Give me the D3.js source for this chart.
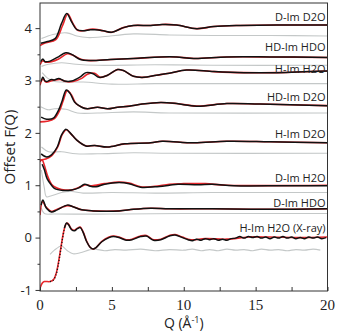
<!DOCTYPE html>
<html><head><meta charset="utf-8">
<script src="https://cdn.jsdelivr.net/npm/d3@7"></script>
<style>html,body{margin:0;padding:0;background:#fff;}svg{display:block;}</style>
</head><body>
<svg id="c" width="337" height="333"></svg>
<script>
// ---------- data (Q in 1/Å, offset F(Q)) ----------
const xTicks = [0, 5, 10, 15, 20];
const yTicks = [-1, 0, 1, 2, 3, 4];
const seriesLabels = ["D-Im D2O", "HD-Im HDO", "H-Im H2O", "HD-Im D2O", "H-Im D2O", "D-Im H2O", "D-Im HDO", "H-Im H2O (X-ray)"];
const labelLevels = [4.21, 3.64, 3.22, 2.68, 1.98, 1.14, 0.66, 0.18];

const dImD2O_fit = [[0.05,3.71],[0.46,3.74],[1.05,3.80],[1.5,4.09],[1.86,4.28],[2.2,4.12],[2.56,3.97],[3.0,3.95],[3.5,3.97],[3.8,3.97],[4.4,3.95],[5.0,3.92],[5.8,4.01],[6.5,4.05],[7.7,4.05],[8.5,4.07],[9.5,4.06],[10.9,3.99],[12.1,4.03],[13.7,4.05],[16.5,4.06],[20,4.06]];
const dImD2O_data = [[0.0,3.67],[0.4,3.72],[1.1,3.78],[1.57,4.05],[1.93,4.27],[2.27,4.10],[2.62,3.96],[3.0,3.95],[3.5,3.98],[3.85,3.98],[4.4,3.95],[5.0,3.92],[5.8,4.01],[6.5,4.05],[7.7,4.05],[8.5,4.07],[9.5,4.06],[10.9,3.99],[12.1,4.03],[13.7,4.05],[16.5,4.06],[20,4.06]];
const dImD2O_diff = [[0.1,3.80],[0.9,3.88],[1.86,3.91],[2.56,3.85],[3.3,3.82],[4.2,3.83],[6.5,3.89],[9,3.87],[12,3.86],[16,3.86],[20,3.85]];

const hdImHDO_fit = [[0.05,3.36],[0.2,3.41],[0.35,3.36],[0.7,3.37],[1.2,3.44],[1.8,3.53],[2.2,3.50],[2.8,3.40],[3.5,3.38],[4.9,3.40],[6.5,3.42],[8.4,3.45],[9.5,3.45],[10.7,3.42],[13,3.45],[16,3.45],[20,3.44]];
const hdImHDO_data = [[0.0,3.30],[0.2,3.38],[0.4,3.35],[0.8,3.36],[1.3,3.41],[1.9,3.51],[2.3,3.48],[2.9,3.40],[3.5,3.38],[4.9,3.40],[6.5,3.42],[8.4,3.45],[9.5,3.45],[10.7,3.42],[13,3.45],[16,3.45],[20,3.44]];
const hdImHDO_diff = [[0.1,3.27],[0.6,3.31],[1.5,3.34],[2.5,3.31],[4,3.29],[8,3.30],[12,3.29],[20,3.29]];

const hImH2O_fit = [[0.08,2.98],[0.2,3.06],[0.35,2.99],[0.46,2.98],[0.8,3.02],[1.0,3.01],[1.3,3.04],[1.7,2.99],[2.2,2.99],[2.8,3.07],[3.2,3.15],[3.7,3.13],[4.1,3.06],[4.7,3.10],[5.4,3.21],[5.8,3.19],[6.5,3.08],[7.2,3.06],[8.1,3.10],[9.0,3.14],[10.2,3.20],[12.1,3.17],[14.2,3.15],[16.5,3.15],[20,3.18]];
const hImH2O_data = [[0.0,2.91],[0.2,3.03],[0.4,2.97],[0.9,3.00],[1.4,3.02],[1.8,2.98],[2.3,2.98],[2.9,3.04],[3.3,3.12],[3.8,3.14],[4.2,3.06],[4.7,3.10],[5.4,3.21],[5.8,3.19],[6.5,3.08],[7.2,3.06],[8.1,3.10],[9.0,3.14],[10.2,3.20],[12.1,3.17],[14.2,3.15],[16.5,3.15],[20,3.18]];
const hImH2O_diff = [[0.15,3.15],[0.5,3.05],[1.0,2.98],[1.5,2.97],[3,2.97],[5,2.93],[8,2.94],[12,2.94],[20,2.94]];

const hdImD2O_fit = [[0.08,2.30],[0.46,2.26],[0.93,2.28],[1.3,2.44],[1.55,2.62],[1.83,2.82],[2.1,2.75],[2.4,2.59],[2.9,2.49],[3.3,2.46],[4.0,2.49],[4.7,2.46],[5.4,2.49],[6.2,2.51],[7.1,2.55],[8.4,2.58],[9.5,2.56],[10.9,2.51],[13,2.56],[15.3,2.55],[20,2.52]];
const hdImD2O_data = [[0.0,2.21],[0.5,2.22],[1.0,2.27],[1.35,2.42],[1.62,2.62],[1.9,2.81],[2.2,2.72],[2.5,2.56],[3.0,2.48],[3.3,2.46],[4.0,2.49],[4.7,2.46],[5.4,2.49],[6.2,2.51],[7.1,2.55],[8.4,2.58],[9.5,2.56],[10.9,2.51],[13,2.56],[15.3,2.55],[20,2.52]];
const hdImD2O_diff = [[0.05,2.50],[0.6,2.44],[1.0,2.46],[1.8,2.45],[2.6,2.38],[4,2.38],[6.5,2.40],[9,2.38],[20,2.38]];

const hImD2O_fit = [[0.08,1.60],[0.46,1.54],[0.8,1.58],[1.2,1.73],[1.5,1.96],[1.8,2.07],[2.1,2.00],[2.56,1.86],[3.2,1.75],[3.8,1.76],[4.7,1.73],[5.9,1.79],[7.7,1.81],[8.5,1.84],[10.7,1.81],[13,1.84],[16,1.83],[20,1.81]];
const hImD2O_data = [[0.0,1.48],[0.4,1.50],[0.8,1.56],[1.25,1.74],[1.55,1.97],[1.85,2.06],[2.15,1.98],[2.6,1.85],[3.2,1.75],[3.8,1.76],[4.7,1.73],[5.9,1.79],[7.7,1.81],[8.5,1.84],[10.7,1.81],[13,1.84],[16,1.83],[20,1.81]];
const hImD2O_diff = [[0.1,1.73],[0.6,1.64],[1.5,1.64],[2.5,1.60],[4,1.60],[6.5,1.62],[9,1.61],[20,1.61]];

const dImH2O_fit = [[0.15,1.40],[0.3,1.30],[0.5,1.12],[0.8,1.00],[1.0,0.94],[1.6,0.90],[2.2,0.91],[2.7,0.95],[3.1,1.02],[3.5,0.98],[3.9,0.97],[4.5,1.02],[5.5,1.05],[6.2,1.03],[7.0,0.96],[8.0,0.97],[9.0,1.00],[9.6,1.02],[11.0,1.01],[12.0,1.02],[13.5,0.99],[17,0.99],[20,0.99]];
const dImH2O_data = [[0.0,1.45],[0.15,1.48],[0.3,1.38],[0.55,1.16],[0.8,1.02],[1.0,0.97],[1.5,0.92],[2.2,0.91],[2.8,0.97],[3.2,1.01],[3.6,0.99],[4.5,1.03],[5.5,1.06],[6.2,1.04],[7,0.97],[8,0.98],[9,1.02],[10,1.03],[11.5,1.03],[13,1.00],[20,1.00]];
const dImH2O_diff = [[0.1,1.29],[0.3,0.95],[0.45,0.78],[0.8,0.80],[1.5,0.86],[2.2,0.88],[3,0.85],[5,0.86],[8,0.85],[12,0.86],[20,0.86]];

const dImHDO_fit = [[0.08,0.62],[0.2,0.72],[0.45,0.56],[0.8,0.49],[1.2,0.53],[1.9,0.62],[2.3,0.59],[2.9,0.53],[3.7,0.51],[5.5,0.51],[6.5,0.54],[7.7,0.56],[9,0.55],[12,0.55],[16,0.54],[20,0.55]];
const dImHDO_data = [[0.0,0.43],[0.18,0.69],[0.4,0.59],[0.8,0.50],[1.2,0.54],[1.9,0.61],[2.3,0.59],[2.9,0.53],[3.7,0.51],[5.5,0.51],[6.5,0.54],[7.7,0.56],[9,0.55],[12,0.55],[16,0.54],[20,0.55]];
const dImHDO_diff = [[0.1,0.56],[0.3,0.46],[1,0.45],[5,0.45],[10,0.46],[20,0.46]];

const xray_fitLow = [[0.7,-0.84],[0.9,-0.82],[1.1,-0.72],[1.25,-0.55],[1.4,-0.30],[1.55,-0.05],[1.7,0.18]];
const xray_fit = [[1.7,0.18],[1.85,0.28],[2.0,0.24],[2.2,0.15],[2.4,0.13],[2.6,0.17],[2.8,0.19],[3.0,0.10],[3.25,-0.08],[3.5,-0.19],[3.7,-0.22],[3.9,-0.19],[4.3,-0.08],[4.8,0.0],[5.1,0.02],[5.5,0.0],[6.0,-0.05],[6.4,-0.04],[7.0,0.02],[7.4,0.03],[7.9,-0.05],[8.4,-0.04],[9.0,0.03],[9.4,0.05],[9.9,0.0],[10.3,-0.04],[10.6,-0.06],[10.9,-0.03],[11.2,-0.05],[11.5,-0.02],[11.8,-0.04],[12.1,-0.02],[12.4,-0.05],[12.7,-0.03],[13.0,-0.05],[13.3,-0.02],[13.6,-0.01],[13.9,0.02],[14.2,-0.01],[14.5,0.02],[14.8,0.0],[15.1,0.02],[15.4,-0.01],[15.7,0.01],[16.0,-0.02],[16.3,0.01],[16.6,-0.01],[16.9,0.02],[17.2,-0.01],[17.5,0.01],[17.8,-0.02],[18.1,0.0],[18.4,-0.02],[18.7,0.01],[19.0,-0.01],[19.3,0.01],[19.6,-0.02],[19.9,0.0]];
const xray_data = [[0.0,-0.97],[0.15,-0.87],[0.3,-0.84],[0.7,-0.84],[0.95,-0.80],[1.15,-0.66],[1.3,-0.45],[1.45,-0.20],[1.6,0.05],[1.75,0.22],[1.88,0.28],[2.0,0.25],[2.2,0.16],[2.4,0.14],[2.6,0.18],[2.8,0.20],[3.0,0.11],[3.25,-0.07],[3.5,-0.19],[3.7,-0.22],[3.9,-0.19],[4.3,-0.07],[4.8,0.01],[5.1,0.03],[5.5,0.01],[6.0,-0.04],[6.4,-0.03],[7.0,0.03],[7.4,0.04],[7.9,-0.04],[8.4,-0.03],[9.0,0.04],[9.4,0.06],[9.9,0.01],[10.5,-0.04],[11.5,-0.02],[13,-0.03],[14.5,0.01],[16,0.01],[18,0.0],[20,0.01]];
const xray_diff = [[0.7,-0.32],[1.0,-0.24],[1.5,-0.16],[1.9,-0.25],[2.3,-0.31],[2.8,-0.29],[3.7,-0.22],[4.5,-0.25],[5.2,-0.23],[6,-0.24],[7,-0.22],[8,-0.25],[9,-0.23],[10,-0.24],[10.6,-0.22],[11.2,-0.25],[11.8,-0.23],[12.4,-0.25],[13,-0.22],[13.6,-0.24],[14.2,-0.23],[14.8,-0.25],[15.4,-0.22],[16,-0.24],[16.6,-0.23],[17.2,-0.25],[17.8,-0.23],[18.4,-0.24],[19,-0.22],[19.5,-0.24]];

const fits = [dImD2O_fit, hdImHDO_fit, hImH2O_fit, hdImD2O_fit, hImD2O_fit, dImH2O_fit, dImHDO_fit, xray_fit];
const datas = [dImD2O_data, hdImHDO_data, hImH2O_data, hdImD2O_data, hImD2O_data, dImH2O_data, dImHDO_data, xray_data];
const diffs = [dImD2O_diff, hdImHDO_diff, hImH2O_diff, hdImD2O_diff, hImD2O_diff, dImH2O_diff, dImHDO_diff, xray_diff];

// ---------- drawing ----------
const svg = d3.select("#c");
const L = 40, R = 327.5, T = 3, B = 291;
const x = d3.scaleLinear().domain([0, 20]).range([L, R]);
const y = d3.scaleLinear().domain([-1.02, 4.48]).range([B, T]);

const line = d3.line().x(d => x(d[0])).y(d => y(d[1])).curve(d3.curveCatmullRom.alpha(0.5));
const plot = svg.append("g");
plot.append("clipPath").attr("id", "clip").append("rect").attr("x", L).attr("y", T).attr("width", R - L).attr("height", B - T);
const g = plot.append("g").attr("clip-path", "url(#clip)");

diffs.forEach(d => g.append("path").attr("d", line(d)).attr("fill", "none").attr("stroke", "#c4c8c8").attr("stroke-width", 1.1));
datas.forEach(d => g.append("path").attr("d", line(d)).attr("fill", "none").attr("stroke", "#e8262b").attr("stroke-width", 1.6));
fits.forEach(d => g.append("path").attr("d", line(d)).attr("fill", "none").attr("stroke", "#111").attr("stroke-width", 1.5));
g.append("path").attr("d", line(xray_fitLow)).attr("fill", "none").attr("stroke", "#111").attr("stroke-width", 1.4).attr("stroke-dasharray", "1,2");

// frame
svg.append("rect").attr("x", L).attr("y", T).attr("width", R - L).attr("height", B - T)
  .attr("fill", "none").attr("stroke", "#333").attr("stroke-width", 1);

// x axis: ticks inward
const xa = svg.append("g").attr("transform", `translate(0,${B})`)
  .call(d3.axisBottom(x).tickValues(d3.range(0, 20.01, 2.5)).tickSizeInner(-4).tickSizeOuter(0).tickFormat(""));
xa.select(".domain").remove();
xa.selectAll("line").attr("stroke", "#333");
svg.append("g").selectAll("text").data(xTicks).join("text")
  .attr("x", d => x(d)).attr("y", 309.5).attr("text-anchor", "middle")
  .attr("font-family", "Liberation Serif, serif").attr("font-size", 15).attr("fill", "#222").text(d => d);

// y axis: ticks outward
const ya = svg.append("g").attr("transform", `translate(${L},0)`)
  .call(d3.axisLeft(y).tickValues(d3.range(-1, 4.01, 0.5)).tickSizeInner(0).tickSizeOuter(0).tickFormat(""));
ya.select(".domain").remove();
ya.selectAll(".tick line").attr("stroke", "#333").attr("x2", d => Number.isInteger(d) ? -4.5 : -2.5);
svg.append("g").selectAll("text").data(yTicks).join("text")
  .attr("x", 32).attr("y", d => y(d)).attr("dy", "0.36em").attr("text-anchor", "end")
  .attr("font-family", "Open Sans, sans-serif").attr("font-size", 13).attr("fill", "#222").text(d => d);

// axis titles
svg.append("text").attr("x", (L + R) / 2).attr("y", 328).attr("text-anchor", "middle")
  .attr("font-family", "Open Sans, sans-serif").attr("font-size", 14).attr("fill", "#222")
  .html('Q (Å<tspan dy="-5" font-size="9">-1</tspan><tspan dy="5">)</tspan>');
svg.append("text").attr("transform", `translate(15,${(T + B) / 2}) rotate(-90)`).attr("text-anchor", "middle")
  .attr("font-family", "Open Sans, sans-serif").attr("font-size", 15).attr("fill", "#222").text("Offset F(Q)");

// series labels
svg.append("g").selectAll("text").data(seriesLabels).join("text")
  .attr("x", R - 2).attr("y", (d, i) => y(labelLevels[i])).attr("dy", "0.35em").attr("text-anchor", "end")
  .attr("font-family", "Open Sans, sans-serif").attr("font-size", 11).attr("fill", "#222").text(d => d);
</script>
</body></html>
